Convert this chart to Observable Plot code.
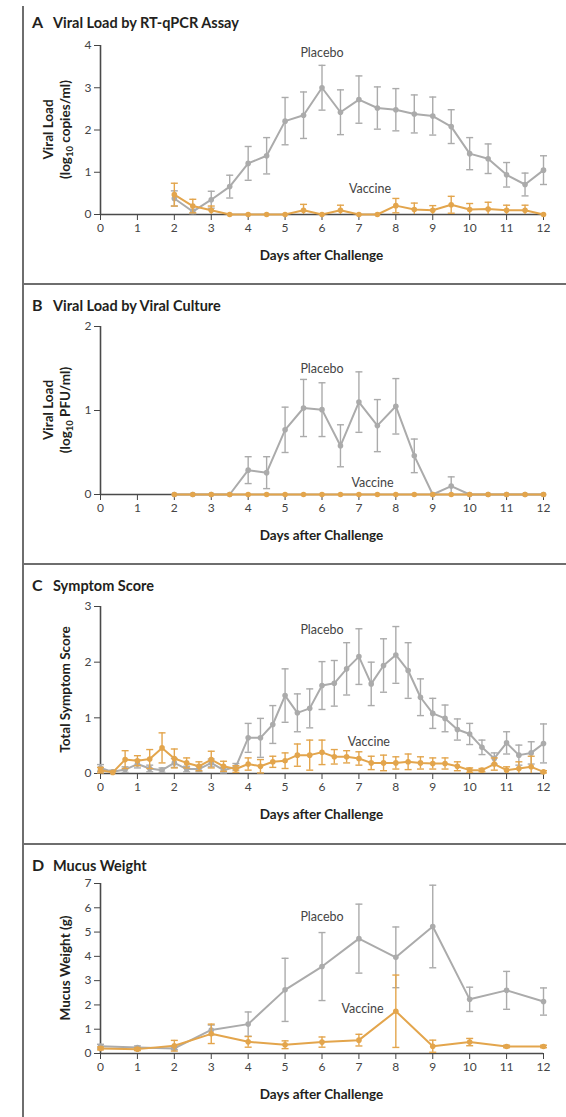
<!DOCTYPE html>
<html><head><meta charset="utf-8">
<script src="https://cdn.jsdelivr.net/npm/d3@7"></script>
<script src="https://cdn.jsdelivr.net/npm/@observablehq/plot@0.6"></script>
<style>
body{margin:0;background:#fff;}
#page{position:relative;width:566px;height:1117px;font-family:Lato,"Open Sans",sans-serif;overflow:hidden;}
.vline{position:absolute;left:22px;top:6px;width:2px;height:1111px;background:#6e6e6e;}
.hline{position:absolute;left:22px;width:544px;height:2px;background:#6e6e6e;}
.ptitle{position:absolute;left:32px;font-weight:700;font-size:14.5px;color:#231f20;white-space:nowrap;line-height:18px;}
.ptitle .letter{font-size:16px;display:inline-block;width:21px;}
#page svg{position:absolute;left:0;overflow:visible;}
</style>
</head><body>
<div id="page"></div>
<script>
// ---- Panel A: Viral load by RT-qPCR (log10 copies/ml)
const daysA = [2,2.5,3,3.5,4,4.5,5,5.5,6,6.5,7,7.5,8,8.5,9,9.5,10,10.5,11,11.5,12];
const placeboA    = [0.38,0.07,0.35,0.66,1.21,1.39,2.21,2.35,3.0,2.42,2.72,2.52,2.48,2.38,2.33,2.08,1.44,1.32,0.94,0.71,1.05];
const placeboAErr = [0.18,0.05,0.2,0.27,0.4,0.43,0.56,0.55,0.53,0.53,0.56,0.5,0.5,0.45,0.45,0.4,0.38,0.35,0.29,0.27,0.34];
const vaccineA    = [0.47,0.2,0.1,0,0,0,0,0.1,0,0.1,0,0,0.21,0.12,0.1,0.23,0.12,0.13,0.1,0.1,0];
const vaccineAErr = [0.27,0.16,0.1,0,0,0,0,0.14,0,0.12,0,0,0.17,0.15,0.11,0.2,0.14,0.16,0.12,0.12,0];

// ---- Panel B: Viral load by viral culture (log10 PFU/ml)
const daysB = [2,2.5,3,3.5,4,4.5,5,5.5,6,6.5,7,7.5,8,8.5,9,9.5,10,10.5,11,11.5,12];
const placeboB    = [0,0,0,0,0.29,0.26,0.77,1.03,1.01,0.58,1.10,0.82,1.05,0.46,0,0.1,0,0,0,0,0];
const placeboBErr = [0,0,0,0,0.16,0.19,0.27,0.34,0.32,0.25,0.36,0.31,0.33,0.2,0,0.11,0,0,0,0,0];
const vaccineB    = [0,0,0,0,0,0,0,0,0,0,0,0,0,0,0,0,0,0,0,0,0];
const vaccineBErr = [0,0,0,0,0,0,0,0,0,0,0,0,0,0,0,0,0,0,0,0,0];

// ---- Panel C: Total symptom score
const daysC = [0,0.333,0.667,1,1.333,1.667,2,2.333,2.667,3,3.333,3.667,4,4.333,4.667,5,5.333,5.667,6,6.333,6.667,7,7.333,7.667,8,8.333,8.667,9,9.333,9.667,10,10.333,10.667,11,11.333,11.667,12];
const placeboC    = [0.1,0.03,0.07,0.17,0.09,0.06,0.19,0.08,0.08,0.19,0.06,0.12,0.64,0.64,0.88,1.4,1.09,1.17,1.58,1.62,1.88,2.1,1.61,1.94,2.13,1.85,1.37,1.08,0.99,0.79,0.71,0.47,0.27,0.55,0.33,0.37,0.54];
const placeboCErr = [0.06,0.03,0.05,0.07,0.06,0.04,0.08,0.05,0.05,0.07,0.05,0.06,0.26,0.35,0.34,0.48,0.34,0.35,0.43,0.41,0.47,0.5,0.39,0.48,0.51,0.5,0.33,0.27,0.24,0.19,0.19,0.13,0.1,0.2,0.18,0.2,0.35];
const vaccineC    = [0.06,0.02,0.25,0.23,0.26,0.46,0.27,0.19,0.13,0.25,0.13,0.08,0.17,0.13,0.21,0.23,0.33,0.33,0.38,0.3,0.3,0.27,0.19,0.19,0.19,0.21,0.19,0.18,0.18,0.13,0.06,0.06,0.17,0.06,0.09,0.12,0.03];
const vaccineCErr = [0.05,0.02,0.16,0.09,0.17,0.27,0.17,0.09,0.08,0.15,0.09,0.06,0.11,0.12,0.1,0.14,0.2,0.27,0.22,0.13,0.11,0.12,0.12,0.14,0.11,0.14,0.11,0.1,0.1,0.08,0.04,0.03,0.11,0.06,0.12,0.19,0.02];

// ---- Panel D: Mucus weight (g)
const daysD = [0,1,2,3,4,5,6,7,8,9,10,11,12];
const placeboD    = [0.3,0.25,0.21,0.97,1.21,2.62,3.58,4.73,3.96,5.23,2.23,2.6,2.14];
const placeboDErr = [0.08,0.06,0.05,0.2,0.5,1.3,1.4,1.42,1.25,1.7,0.5,0.78,0.56];
const vaccineD    = [0.21,0.18,0.32,0.81,0.48,0.36,0.47,0.55,1.74,0.3,0.47,0.29,0.29];
const vaccineDErr = [0.06,0.06,0.22,0.4,0.22,0.16,0.21,0.24,1.49,0.25,0.15,0.05,0.05];

const xTicks = [0,1,2,3,4,5,6,7,8,9,10,11,12];
const seriesNames = ["Placebo","Vaccine"];
const colors = {Placebo:"#ababab", Vaccine:"#e3a54c"};

const panels = [
  {letter:"A", title:"Viral Load by RT-qPCR Assay", top:0, bottom:283, yMax:45, zero:214,
   yDomain:[0,4], yTicks:[0,1,2,3,4], ylab:["Viral Load", ["(log","10"," copies/ml)"]],
   days:daysA, p:placeboA, pe:placeboAErr, v:vaccineA, ve:vaccineAErr,
   lab:{Placebo:[6.0,3.83], Vaccine:[7.3,0.6]}},
  {letter:"B", title:"Viral Load by Viral Culture", top:283, bottom:563, yMax:326, zero:494,
   yDomain:[0,2], yTicks:[0,1,2], ylab:["Viral Load", ["(log","10"," PFU/ml)"]],
   days:daysB, p:placeboB, pe:placeboBErr, v:vaccineB, ve:vaccineBErr,
   lab:{Placebo:[6.0,1.49], Vaccine:[7.37,0.14]}},
  {letter:"C", title:"Symptom Score", top:563, bottom:843, yMax:606, zero:773,
   yDomain:[0,3], yTicks:[0,1,2,3], ylab:[null, ["Total Symptom Score"]],
   days:daysC, p:placeboC, pe:placeboCErr, v:vaccineC, ve:vaccineCErr,
   lab:{Placebo:[6.0,2.57], Vaccine:[7.27,0.57]}},
  {letter:"D", title:"Mucus Weight", top:843, bottom:1117, yMax:883, zero:1053,
   yDomain:[0,7], yTicks:[0,1,2,3,4,5,6,7], ylab:[null, ["Mucus Weight (g)"]],
   days:daysD, p:placeboD, pe:placeboDErr, v:vaccineD, ve:vaccineDErr,
   lab:{Placebo:[6.0,5.64], Vaccine:[7.1,1.82]}}
];

const page = document.getElementById("page");
const vline = document.createElement("div"); vline.className = "vline"; page.appendChild(vline);

const cap = {draw(ctx){ ctx.moveTo(-3.5,0); ctx.lineTo(3.5,0); }};

panels.forEach((P, k) => {
  if (k > 0) {
    const h = document.createElement("div"); h.className = "hline"; h.style.top = (P.top) + "px"; page.appendChild(h);
  }
  const t = document.createElement("div"); t.className = "ptitle";
  t.style.top = (P.top + 13) + "px";
  t.innerHTML = `<span class="letter">${P.letter}</span>${P.title}`;
  page.appendChild(t);

  const svgTop = P.top + 34;
  const height = P.bottom - svgTop;
  const marginTop = P.yMax - svgTop;
  const zeroLocal = P.zero - svgTop;
  const marginBottom = height - zeroLocal;

  const rows = [];
  P.days.forEach((d,i) => {
    rows.push({day:d, s:"Placebo", v:P.p[i], lo:Math.max(0,P.p[i]-P.pe[i]), hi:P.p[i]+P.pe[i], e:P.pe[i]});
  });
  P.days.forEach((d,i) => {
    rows.push({day:d, s:"Vaccine", v:P.v[i], lo:Math.max(0,P.v[i]-P.ve[i]), hi:P.v[i]+P.ve[i], e:P.ve[i]});
  });
  const marks = [
    Plot.ruleY([0], {stroke:"#4a4a4a", strokeWidth:1.6}),
    Plot.ruleX([0], {stroke:"#4a4a4a", strokeWidth:1.6})
  ];
  seriesNames.forEach(s => {
    const d = rows.filter(r => r.s === s);
    const de = d.filter(r => r.e > 0);
    marks.push(
      Plot.ruleX(de, {x:"day", y1:"lo", y2:"hi", stroke:colors[s], strokeWidth:1.4}),
      Plot.dot(de, {x:"day", y:"hi", symbol:cap, r:3, stroke:colors[s], fill:"none", strokeWidth:1.4}),
      Plot.dot(de.filter(r => r.v - r.e > 0.001), {x:"day", y:"lo", symbol:cap, r:3, stroke:colors[s], fill:"none", strokeWidth:1.4}),
      Plot.line(d, {x:"day", y:"v", stroke:colors[s], strokeWidth:2}),
      Plot.dot(d, {x:"day", y:"v", r:2.8, fill:colors[s], stroke:"none"})
    );
  });
  const labRows = seriesNames.map(s => ({s, x:P.lab[s][0], y:P.lab[s][1]}));
  marks.push(Plot.text(labRows, {x:"x", y:"y", text:"s", fill:"#444", fontSize:12.5, fontFamily:"Lato"}));

  const chart = Plot.plot({
    width:566, height, marginLeft:100, marginRight:23, marginTop, marginBottom,
    style:{fontFamily:"Lato", fontSize:"12px", color:"#444", background:"transparent"},
    x:{domain:[0,12], ticks:xTicks, tickSize:6, tickPadding:3, tickFormat:d3.format("d"), label:null},
    y:{domain:P.yDomain, ticks:P.yTicks, tickSize:6, tickPadding:3, tickFormat:d3.format("d"), label:null},
    marks
  });
  chart.style.top = svgTop + "px";
  page.appendChild(chart);

  const svg = d3.select(chart);
  svg.append("text")
    .attr("x", (100 + 543) / 2).attr("y", zeroLocal + 41)
    .attr("text-anchor","middle").attr("dominant-baseline","central")
    .attr("font-family","Lato").attr("font-weight",700).attr("font-size",13.5).attr("fill","#231f20")
    .text("Days after Challenge");

  const midY = (marginTop + zeroLocal) / 2;
  const lines = [[48, P.ylab[0]], [65, P.ylab[1]]];
  lines.forEach(([x, content]) => {
    if (!content) return;
    const tx = svg.append("text")
      .attr("transform", `translate(${x},${midY}) rotate(-90)`)
      .attr("text-anchor","middle").attr("dominant-baseline","central")
      .attr("font-family","Lato").attr("font-weight",700).attr("font-size",13.5).attr("fill","#231f20");
    if (typeof content === "string") { tx.text(content); return; }
    if (content.length === 1) { tx.text(content[0]); return; }
    tx.append("tspan").text(content[0]);
    tx.append("tspan").attr("font-size",9.5).attr("dy",4).text(content[1]);
    tx.append("tspan").attr("dy",-4).text(content[2]);
  });
});
</script>
</body></html>
